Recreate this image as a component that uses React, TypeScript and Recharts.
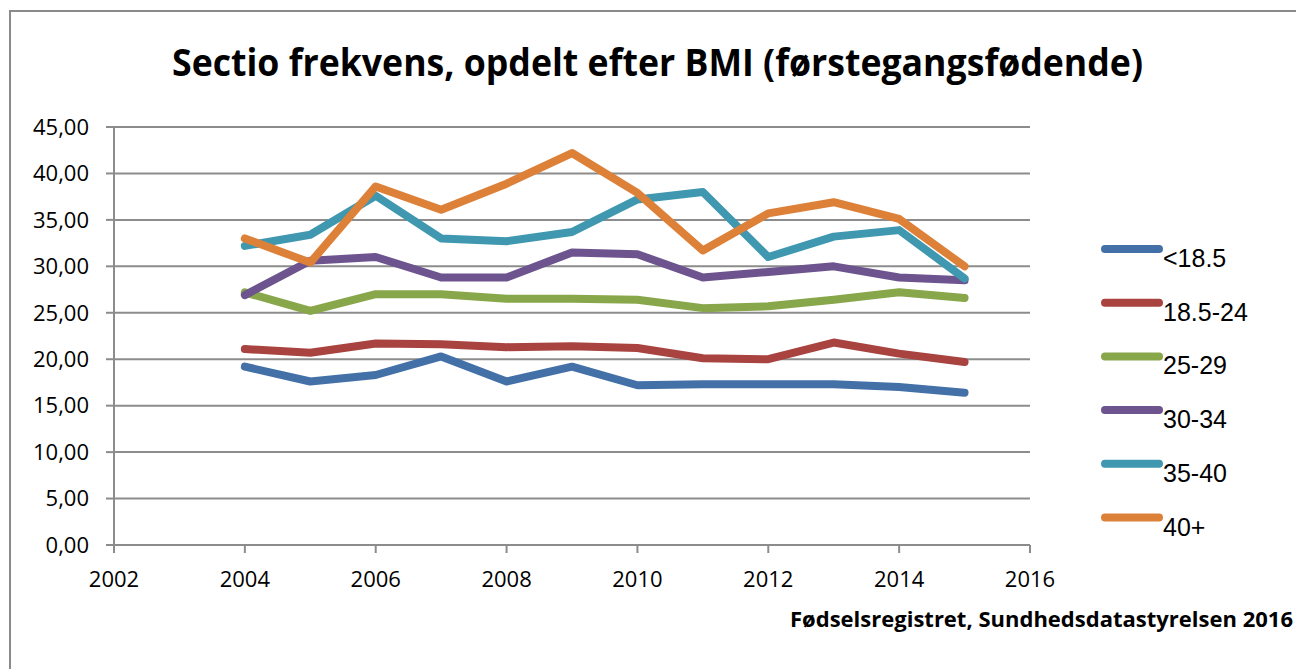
import { LineChart, Line, XAxis, YAxis, CartesianGrid } from "recharts";

const years = [2004, 2005, 2006, 2007, 2008, 2009, 2010, 2011, 2012, 2013, 2014, 2015];

const under185 = [19.2, 17.6, 18.3, 20.3, 17.6, 19.2, 17.2, 17.3, 17.3, 17.3, 17.0, 16.4];
const bmi185to24 = [21.1, 20.7, 21.7, 21.6, 21.3, 21.4, 21.2, 20.1, 20.0, 21.8, 20.6, 19.7];
const bmi25to29 = [27.2, 25.2, 27.0, 27.0, 26.5, 26.5, 26.4, 25.5, 25.7, 26.4, 27.2, 26.6];
const bmi30to34 = [26.9, 30.6, 31.0, 28.8, 28.8, 31.5, 31.3, 28.8, 29.4, 30.0, 28.8, 28.5];
const bmi35to40 = [32.2, 33.4, 37.6, 33.0, 32.7, 33.7, 37.2, 38.0, 31.0, 33.2, 33.9, 28.7];
const bmi40plus = [33.0, 30.4, 38.6, 36.1, 38.9, 42.2, 37.9, 31.7, 35.7, 36.9, 35.1, 30.0];

const xTicks = [2002, 2004, 2006, 2008, 2010, 2012, 2014, 2016];
const yTicks = [0, 5, 10, 15, 20, 25, 30, 35, 40, 45];

const series = [
  { key: "under185", name: "<18.5", values: under185, color: "#4470a8" },
  { key: "b185", name: "18.5-24", values: bmi185to24, color: "#a8433f" },
  { key: "b25", name: "25-29", values: bmi25to29, color: "#88a64a" },
  { key: "b30", name: "30-34", values: bmi30to34, color: "#6d548e" },
  { key: "b35", name: "35-40", values: bmi35to40, color: "#3f98b0" },
  { key: "b40", name: "40+", values: bmi40plus, color: "#dd8139" },
];

const data = years.map((year, i) => {
  const row: Record<string, number> = { year };
  series.forEach((s) => {
    row[s.key] = s.values[i];
  });
  return row;
});

const tickFont = { fontFamily: "Open Sans", fontSize: 22, fill: "#000" };

export default function App() {
  return (
    <div
      style={{
        position: "fixed",
        left: 0,
        top: 0,
        width: 1296,
        height: 669,
        background: "#fff",
        overflow: "hidden",
      }}
    >
      <div
        style={{
          position: "absolute",
          left: 9,
          top: 10,
          width: 1300,
          height: 700,
          borderLeft: "2px solid #8a8a8a",
          borderTop: "2px solid #8a8a8a",
        }}
      />
      <LineChart
        width={1296}
        height={669}
        data={data}
        margin={{ top: 127, right: 266, bottom: 84, left: 14 }}
        style={{ position: "absolute", left: 0, top: 0 }}
      >
        <CartesianGrid vertical={false} stroke="#8c8c8c" strokeWidth={2} />
        <XAxis
          dataKey="year"
          type="number"
          domain={[2002, 2016]}
          ticks={xTicks}
          height={40}
          tick={tickFont}
          tickSize={8}
          tickMargin={18}
          stroke="#8c8c8c"
          strokeWidth={2}
        />
        <YAxis
          type="number"
          domain={[0, 45]}
          ticks={yTicks}
          width={100}
          tick={tickFont}
          tickSize={8}
          tickMargin={17}
          stroke="#8c8c8c"
          strokeWidth={2}
          tickFormatter={(v: number) => v.toFixed(2).replace(".", ",")}
        />
        {series.map((s) => (
          <Line
            key={s.key}
            dataKey={s.key}
            name={s.name}
            stroke={s.color}
            strokeWidth={8}
            strokeLinecap="round"
            strokeLinejoin="round"
            dot={false}
            activeDot={false}
            isAnimationActive={false}
          />
        ))}
      </LineChart>
      <svg
        width={1296}
        height={669}
        style={{ position: "absolute", left: 0, top: 0, pointerEvents: "none" }}
      >
        <text
          x={172}
          y={76}
          fontFamily="Open Sans"
          fontWeight="bold"
          fontSize={37}
          textLength={971}
          lengthAdjust="spacingAndGlyphs"
          fill="#000"
        >
          Sectio frekvens, opdelt efter BMI (førstegangsfødende)
        </text>
        <text
          x={790}
          y={627}
          fontFamily="Open Sans"
          fontWeight="bold"
          fontSize={21}
          textLength={503}
          lengthAdjust="spacingAndGlyphs"
          fill="#000"
        >
          Fødselsregistret, Sundhedsdatastyrelsen 2016
        </text>
        {series.map((s, i) => (
          <g key={s.key}>
            <line
              x1={1105}
              x2={1159}
              y1={249 + i * 53.7}
              y2={249 + i * 53.7}
              stroke={s.color}
              strokeWidth={8}
              strokeLinecap="round"
            />
            <text
              x={1163}
              y={267 + i * 53.7}
              fontFamily="Liberation Sans"
              fontSize={25}
              fill="#000"
            >
              {s.name}
            </text>
          </g>
        ))}
      </svg>
    </div>
  );
}
